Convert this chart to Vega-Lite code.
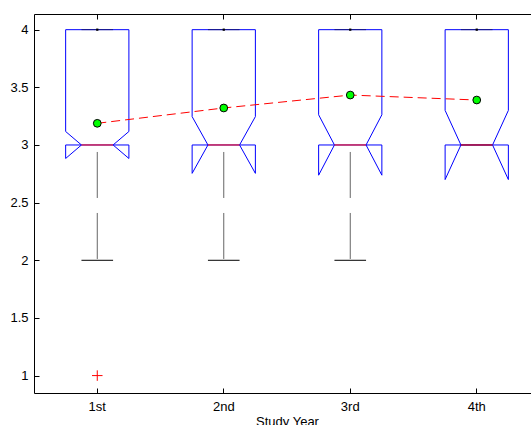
{
  "$schema": "https://vega.github.io/schema/vega-lite/v6.json",
  "width": 497,
  "height": 379,
  "autosize": {"type": "none"},
  "padding": {"left": 34, "top": 14, "right": 0, "bottom": 32},
  "background": "white",
  "config": {
    "view": {"stroke": null},
    "font": "Liberation Sans",
    "axis": {
      "labelFont": "Liberation Sans", "labelFontSize": 13, "labelColor": "black",
      "titleFont": "Liberation Sans", "titleFontSize": 13, "titleColor": "black", "titleFontWeight": "normal",
      "domainColor": "black", "tickColor": "black", "grid": false
    }
  },
  "datasets": {
    "stats": [
      {"year": "1st", "q1": 3, "med": 3, "q3": 4, "nlo": 2.883, "nhi": 3.117, "wlo": 2, "whi": 4, "mean": 3.188},
      {"year": "2nd", "q1": 3, "med": 3, "q3": 4, "nlo": 2.754, "nhi": 3.246, "wlo": 2, "whi": 4, "mean": 3.321},
      {"year": "3rd", "q1": 3, "med": 3, "q3": 4, "nlo": 2.738, "nhi": 3.262, "wlo": 2, "whi": 4, "mean": 3.433},
      {"year": "4th", "q1": 3, "med": 3, "q3": 4, "nlo": 2.70, "nhi": 3.30, "wlo": 3, "whi": 4, "mean": 3.39}
    ],
    "outliers": [
      {"year": "1st", "value": 1}
    ]
  },
  "data": {"name": "stats"},
  "resolve": {"axis": {"x": "independent"}},
  "layer": [
    {
      "mark": {"type": "rule", "color": "#666666", "strokeWidth": 1, "strokeDash": [46, 15], "strokeDashOffset": 54},
      "encoding": {
        "x": {"field": "year", "type": "ordinal", "bandPosition": 0.5,
              "scale": {"type": "band", "domain": ["1st", "2nd", "3rd", "4th"], "paddingInner": 0.5, "paddingOuter": 0.2146, "align": 0.583},
              "axis": {"orient": "bottom", "title": "Study Year", "titleX": 253, "labelAngle": 0, "tickSize": -5, "labelPadding": 12, "titlePadding": 2, "domain": true}},
        "y": {"field": "q1", "type": "quantitative",
              "scale": {"domain": [0.849, 4.136], "nice": false, "zero": false},
              "axis": {"orient": "left", "title": null, "values": [1, 1.5, 2, 2.5, 3, 3.5, 4], "format": "~g", "tickSize": -5, "labelPadding": 11, "domain": true}},
        "y2": {"field": "wlo"}
      }
    },
    {
      "mark": {"type": "rule", "color": "black", "strokeWidth": 1},
      "encoding": {
        "x": {"field": "year", "type": "ordinal", "bandPosition": 0.25,
              "axis": {"orient": "top", "title": null, "labels": false, "tickSize": -5, "domain": true}},
        "x2": {"field": "year", "bandPosition": 0.75},
        "y": {"field": "wlo", "type": "quantitative"}
      }
    },
    {
      "mark": {"type": "rule", "color": "#0000ff", "strokeWidth": 1},
      "encoding": {
        "x": {"field": "year", "type": "ordinal", "bandPosition": 0, "axis": null},
        "x2": {"field": "year", "bandPosition": 1},
        "y": {"field": "q3", "type": "quantitative"}
      }
    },
    {
      "mark": {"type": "rule", "color": "#0000ff", "strokeWidth": 1},
      "encoding": {
        "x": {"field": "year", "type": "ordinal", "bandPosition": 0, "axis": null},
        "y": {"field": "q3", "type": "quantitative"},
        "y2": {"field": "nhi"}
      }
    },
    {
      "mark": {"type": "rule", "color": "#0000ff", "strokeWidth": 1},
      "encoding": {
        "x": {"field": "year", "type": "ordinal", "bandPosition": 1, "axis": null},
        "y": {"field": "q3", "type": "quantitative"},
        "y2": {"field": "nhi"}
      }
    },
    {
      "mark": {"type": "rule", "color": "#0000ff", "strokeWidth": 1},
      "encoding": {
        "x": {"field": "year", "type": "ordinal", "bandPosition": 0, "axis": null},
        "x2": {"field": "year", "bandPosition": 0.25},
        "y": {"field": "nhi", "type": "quantitative"},
        "y2": {"field": "med"}
      }
    },
    {
      "mark": {"type": "rule", "color": "#0000ff", "strokeWidth": 1},
      "encoding": {
        "x": {"field": "year", "type": "ordinal", "bandPosition": 1, "axis": null},
        "x2": {"field": "year", "bandPosition": 0.75},
        "y": {"field": "nhi", "type": "quantitative"},
        "y2": {"field": "med"}
      }
    },
    {
      "mark": {"type": "rule", "color": "#0000ff", "strokeWidth": 1},
      "encoding": {
        "x": {"field": "year", "type": "ordinal", "bandPosition": 0.25, "axis": null},
        "x2": {"field": "year", "bandPosition": 0},
        "y": {"field": "med", "type": "quantitative"},
        "y2": {"field": "nlo"}
      }
    },
    {
      "mark": {"type": "rule", "color": "#0000ff", "strokeWidth": 1},
      "encoding": {
        "x": {"field": "year", "type": "ordinal", "bandPosition": 0.75, "axis": null},
        "x2": {"field": "year", "bandPosition": 1},
        "y": {"field": "med", "type": "quantitative"},
        "y2": {"field": "nlo"}
      }
    },
    {
      "mark": {"type": "rule", "color": "#0000ff", "strokeWidth": 1},
      "encoding": {
        "x": {"field": "year", "type": "ordinal", "bandPosition": 0, "axis": null},
        "y": {"field": "nlo", "type": "quantitative"},
        "y2": {"field": "q1"}
      }
    },
    {
      "mark": {"type": "rule", "color": "#0000ff", "strokeWidth": 1},
      "encoding": {
        "x": {"field": "year", "type": "ordinal", "bandPosition": 1, "axis": null},
        "y": {"field": "nlo", "type": "quantitative"},
        "y2": {"field": "q1"}
      }
    },
    {
      "mark": {"type": "rule", "color": "#0000ff", "strokeWidth": 1},
      "encoding": {
        "x": {"field": "year", "type": "ordinal", "bandPosition": 0, "axis": null},
        "x2": {"field": "year", "bandPosition": 1},
        "y": {"field": "q1", "type": "quantitative"}
      }
    },
    {
      "mark": {"type": "rule", "color": "black", "strokeWidth": 1, "opacity": 0.5},
      "encoding": {
        "x": {"field": "year", "type": "ordinal", "bandPosition": 0.25, "axis": null},
        "x2": {"field": "year", "bandPosition": 0.75},
        "y": {"field": "whi", "type": "quantitative"}
      }
    },
    {
      "mark": {"type": "rule", "color": "#ff0000", "strokeWidth": 1},
      "encoding": {
        "x": {"field": "year", "type": "ordinal", "bandPosition": 0.25, "axis": null},
        "x2": {"field": "year", "bandPosition": 0.75},
        "y": {"field": "med", "type": "quantitative"}
      }
    },
    {
      "mark": {"type": "point", "shape": "square", "filled": true, "color": "black", "size": 5, "opacity": 1},
      "encoding": {
        "x": {"field": "year", "type": "ordinal", "bandPosition": 0.5, "axis": null},
        "y": {"field": "whi", "type": "quantitative"}
      }
    },
    {
      "mark": {"type": "line", "color": "#ff0000", "strokeWidth": 1, "strokeDash": [9, 5]},
      "encoding": {
        "x": {"field": "year", "type": "ordinal", "bandPosition": 0.5, "axis": null},
        "y": {"field": "mean", "type": "quantitative"}
      }
    },
    {
      "mark": {"type": "point", "filled": true, "fill": "#00ff00", "stroke": "black", "strokeWidth": 1, "size": 60, "opacity": 1},
      "encoding": {
        "x": {"field": "year", "type": "ordinal", "bandPosition": 0.5, "axis": null},
        "y": {"field": "mean", "type": "quantitative"}
      }
    },
    {
      "data": {"name": "outliers"},
      "mark": {"type": "point", "shape": "M-1,0L1,0M0,-1L0,1", "filled": false, "stroke": "#ff0000", "strokeWidth": 1, "size": 110, "opacity": 1},
      "encoding": {
        "x": {"field": "year", "type": "ordinal", "bandPosition": 0.5, "axis": null},
        "y": {"field": "value", "type": "quantitative"}
      }
    }
  ]
}
